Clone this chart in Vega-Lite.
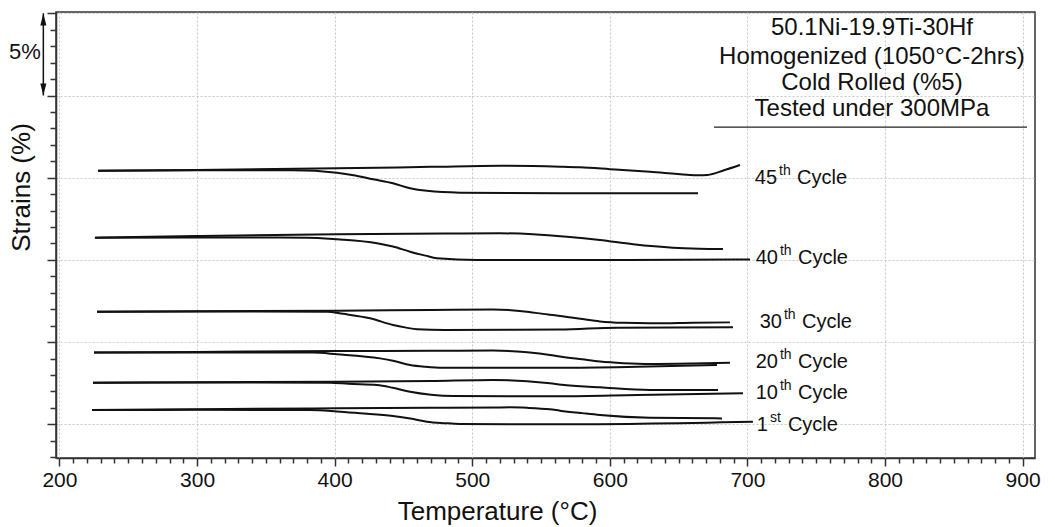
{
  "$schema": "https://vega.github.io/schema/vega-lite/v6.json",
  "width": 979,
  "height": 446,
  "autosize": {"type": "none"},
  "padding": {"left": 56, "top": 12, "right": 20, "bottom": 69},
  "background": "white",
  "config": {
    "view": {"stroke": "#333", "strokeWidth": 1.5},
    "font": "Liberation Sans",
    "text": {"font": "Liberation Sans", "color": "#111"}
  },
  "datasets": {
    "curves": [
      {"c": "45", "b": "h", "T": 228.0, "s": 15.43}, {"c": "45", "b": "h", "T": 300, "s": 15.47}, {"c": "45", "b": "h", "T": 401.7, "s": 15.57}, {"c": "45", "b": "h", "T": 470, "s": 15.66}, {"c": "45", "b": "h", "T": 520.2, "s": 15.73}, {"c": "45", "b": "h", "T": 563.8, "s": 15.67}, {"c": "45", "b": "h", "T": 578.3, "s": 15.63}, {"c": "45", "b": "h", "T": 600, "s": 15.52}, {"c": "45", "b": "h", "T": 629.2, "s": 15.36}, {"c": "45", "b": "h", "T": 656.1, "s": 15.18}, {"c": "45", "b": "h", "T": 664, "s": 15.15}, {"c": "45", "b": "h", "T": 671, "s": 15.17}, {"c": "45", "b": "h", "T": 683, "s": 15.45}, {"c": "45", "b": "h", "T": 694.6, "s": 15.77},
      {"c": "45", "b": "c", "T": 228.0, "s": 15.43}, {"c": "45", "b": "c", "T": 300, "s": 15.45}, {"c": "45", "b": "c", "T": 369.7, "s": 15.45}, {"c": "45", "b": "c", "T": 401.7, "s": 15.30}, {"c": "45", "b": "c", "T": 415, "s": 15.13}, {"c": "45", "b": "c", "T": 427.9, "s": 14.90}, {"c": "45", "b": "c", "T": 442.4, "s": 14.66}, {"c": "45", "b": "c", "T": 454.8, "s": 14.36}, {"c": "45", "b": "c", "T": 467, "s": 14.20}, {"c": "45", "b": "c", "T": 491.1, "s": 14.09}, {"c": "45", "b": "c", "T": 563.8, "s": 14.05}, {"c": "45", "b": "c", "T": 664.1, "s": 14.05},

      {"c": "40", "b": "h", "T": 225.8, "s": 11.35}, {"c": "40", "b": "h", "T": 300, "s": 11.45}, {"c": "40", "b": "h", "T": 401.7, "s": 11.56}, {"c": "40", "b": "h", "T": 480, "s": 11.60}, {"c": "40", "b": "h", "T": 520.2, "s": 11.62}, {"c": "40", "b": "h", "T": 544.2, "s": 11.56}, {"c": "40", "b": "h", "T": 568.9, "s": 11.41}, {"c": "40", "b": "h", "T": 592.8, "s": 11.21}, {"c": "40", "b": "h", "T": 617, "s": 10.95}, {"c": "40", "b": "h", "T": 645.9, "s": 10.74}, {"c": "40", "b": "h", "T": 665, "s": 10.68}, {"c": "40", "b": "h", "T": 682.2, "s": 10.66},
      {"c": "40", "b": "c", "T": 225.8, "s": 11.35}, {"c": "40", "b": "c", "T": 300, "s": 11.37}, {"c": "40", "b": "c", "T": 379.9, "s": 11.35}, {"c": "40", "b": "c", "T": 401.7, "s": 11.25}, {"c": "40", "b": "c", "T": 430.8, "s": 11.01}, {"c": "40", "b": "c", "T": 442.4, "s": 10.81}, {"c": "40", "b": "c", "T": 454.8, "s": 10.50}, {"c": "40", "b": "c", "T": 466, "s": 10.26}, {"c": "40", "b": "c", "T": 474.4, "s": 10.10}, {"c": "40", "b": "c", "T": 503.5, "s": 9.99}, {"c": "40", "b": "c", "T": 563.8, "s": 9.99}, {"c": "40", "b": "c", "T": 701.9, "s": 10.03},

      {"c": "30", "b": "h", "T": 227.3, "s": 6.85}, {"c": "30", "b": "h", "T": 300, "s": 6.88}, {"c": "30", "b": "h", "T": 401.7, "s": 6.91}, {"c": "30", "b": "h", "T": 470, "s": 6.96}, {"c": "30", "b": "h", "T": 515.1, "s": 6.99}, {"c": "30", "b": "h", "T": 539.8, "s": 6.85}, {"c": "30", "b": "h", "T": 556.5, "s": 6.66}, {"c": "30", "b": "h", "T": 563.8, "s": 6.59}, {"c": "30", "b": "h", "T": 580, "s": 6.40}, {"c": "30", "b": "h", "T": 592.8, "s": 6.26}, {"c": "30", "b": "h", "T": 610, "s": 6.17}, {"c": "30", "b": "h", "T": 629.2, "s": 6.14}, {"c": "30", "b": "h", "T": 660, "s": 6.17}, {"c": "30", "b": "h", "T": 687.3, "s": 6.20},
      {"c": "30", "b": "c", "T": 227.3, "s": 6.85}, {"c": "30", "b": "c", "T": 300, "s": 6.86}, {"c": "30", "b": "c", "T": 394.5, "s": 6.85}, {"c": "30", "b": "c", "T": 406, "s": 6.72}, {"c": "30", "b": "c", "T": 425.7, "s": 6.45}, {"c": "30", "b": "c", "T": 442.4, "s": 6.04}, {"c": "30", "b": "c", "T": 452, "s": 5.88}, {"c": "30", "b": "c", "T": 459.9, "s": 5.78}, {"c": "30", "b": "c", "T": 480, "s": 5.74}, {"c": "30", "b": "c", "T": 563.8, "s": 5.76}, {"c": "30", "b": "c", "T": 605.2, "s": 5.88}, {"c": "30", "b": "c", "T": 689.5, "s": 5.90},

      {"c": "20", "b": "h", "T": 225.1, "s": 4.36}, {"c": "20", "b": "h", "T": 300, "s": 4.40}, {"c": "20", "b": "h", "T": 401.7, "s": 4.46}, {"c": "20", "b": "h", "T": 470, "s": 4.47}, {"c": "20", "b": "h", "T": 515.1, "s": 4.49}, {"c": "20", "b": "h", "T": 540, "s": 4.38}, {"c": "20", "b": "h", "T": 556.5, "s": 4.22}, {"c": "20", "b": "h", "T": 563.8, "s": 4.12}, {"c": "20", "b": "h", "T": 580, "s": 3.95}, {"c": "20", "b": "h", "T": 592.8, "s": 3.82}, {"c": "20", "b": "h", "T": 610, "s": 3.72}, {"c": "20", "b": "h", "T": 629.2, "s": 3.67}, {"c": "20", "b": "h", "T": 660, "s": 3.70}, {"c": "20", "b": "h", "T": 687.3, "s": 3.75},
      {"c": "20", "b": "c", "T": 225.1, "s": 4.36}, {"c": "20", "b": "c", "T": 300, "s": 4.37}, {"c": "20", "b": "c", "T": 384.3, "s": 4.36}, {"c": "20", "b": "c", "T": 401.7, "s": 4.26}, {"c": "20", "b": "c", "T": 433, "s": 4.01}, {"c": "20", "b": "c", "T": 442.4, "s": 3.87}, {"c": "20", "b": "c", "T": 454.8, "s": 3.61}, {"c": "20", "b": "c", "T": 466, "s": 3.50}, {"c": "20", "b": "c", "T": 478.8, "s": 3.44}, {"c": "20", "b": "c", "T": 563.8, "s": 3.44}, {"c": "20", "b": "c", "T": 620, "s": 3.50}, {"c": "20", "b": "c", "T": 677.9, "s": 3.61},

      {"c": "10", "b": "h", "T": 224.4, "s": 2.53}, {"c": "10", "b": "h", "T": 300, "s": 2.56}, {"c": "10", "b": "h", "T": 401.7, "s": 2.59}, {"c": "10", "b": "h", "T": 470, "s": 2.64}, {"c": "10", "b": "h", "T": 515.1, "s": 2.70}, {"c": "10", "b": "h", "T": 540, "s": 2.62}, {"c": "10", "b": "h", "T": 556.5, "s": 2.49}, {"c": "10", "b": "h", "T": 565, "s": 2.40}, {"c": "10", "b": "h", "T": 592.8, "s": 2.25}, {"c": "10", "b": "h", "T": 629.2, "s": 2.09}, {"c": "10", "b": "h", "T": 678.6, "s": 2.09},
      {"c": "10", "b": "c", "T": 224.4, "s": 2.53}, {"c": "10", "b": "c", "T": 300, "s": 2.54}, {"c": "10", "b": "c", "T": 396.6, "s": 2.53}, {"c": "10", "b": "c", "T": 410, "s": 2.46}, {"c": "10", "b": "c", "T": 430.8, "s": 2.39}, {"c": "10", "b": "c", "T": 442.4, "s": 2.22}, {"c": "10", "b": "c", "T": 454.8, "s": 1.98}, {"c": "10", "b": "c", "T": 470, "s": 1.80}, {"c": "10", "b": "c", "T": 486, "s": 1.72}, {"c": "10", "b": "c", "T": 563.8, "s": 1.70}, {"c": "10", "b": "c", "T": 620, "s": 1.78}, {"c": "10", "b": "c", "T": 696.8, "s": 1.89},

      {"c": "1", "b": "h", "T": 223.7, "s": 0.87}, {"c": "1", "b": "h", "T": 300, "s": 0.92}, {"c": "1", "b": "h", "T": 401.7, "s": 0.97}, {"c": "1", "b": "h", "T": 470, "s": 1.00}, {"c": "1", "b": "h", "T": 527.4, "s": 1.03}, {"c": "1", "b": "h", "T": 540, "s": 1.00}, {"c": "1", "b": "h", "T": 556.5, "s": 0.91}, {"c": "1", "b": "h", "T": 563.8, "s": 0.83}, {"c": "1", "b": "h", "T": 580, "s": 0.68}, {"c": "1", "b": "h", "T": 592.8, "s": 0.57}, {"c": "1", "b": "h", "T": 629.2, "s": 0.40}, {"c": "1", "b": "h", "T": 681.5, "s": 0.36},
      {"c": "1", "b": "c", "T": 223.7, "s": 0.87}, {"c": "1", "b": "c", "T": 300, "s": 0.88}, {"c": "1", "b": "c", "T": 382.1, "s": 0.87}, {"c": "1", "b": "c", "T": 401.7, "s": 0.78}, {"c": "1", "b": "c", "T": 418.4, "s": 0.67}, {"c": "1", "b": "c", "T": 442.4, "s": 0.50}, {"c": "1", "b": "c", "T": 455, "s": 0.35}, {"c": "1", "b": "c", "T": 467.1, "s": 0.16}, {"c": "1", "b": "c", "T": 480, "s": 0.07}, {"c": "1", "b": "c", "T": 491.1, "s": 0.02}, {"c": "1", "b": "c", "T": 563.8, "s": 0.00}, {"c": "1", "b": "c", "T": 704.0, "s": 0.16}
    ],
    "labels": [
      {"num": "45", "suf": "th", "T": 721.5, "s": 14.98},
      {"num": "40", "suf": "th", "T": 722.2, "s": 10.12},
      {"num": "30", "suf": "th", "T": 725.1, "s": 6.24},
      {"num": "20", "suf": "th", "T": 722.2, "s": 3.81},
      {"num": "10", "suf": "th", "T": 722.2, "s": 1.89},
      {"num": "1", "suf": "st", "T": 714.9, "s": -0.04}
    ],
    "box": [
      {"txt": "50.1Ni-19.9Ti-30Hf", "T": 790.5, "s": 24.09},
      {"txt": "Homogenized (1050°C-2hrs)", "T": 790.5, "s": 22.36},
      {"txt": "Cold Rolled (%5)", "T": 790.5, "s": 20.76},
      {"txt": "Tested under 300MPa", "T": 790.5, "s": 19.18}
    ],
    "underline": [{"T": 675.7, "T2": 903.2, "s": 18.08}],
    "scalebar": [{"T": 188.3, "s": 25.0, "s2": 20.0}],
    "heads": [{"T": 188.3, "s": 25.0, "dir": "up"}, {"T": 188.3, "s": 20.0, "dir": "down"}],
    "pct": [{"txt": "5%", "T": 186.5, "s": 22.65}]
  },
  "encoding": {
    "x": {
      "field": "T", "type": "quantitative",
      "scale": {"domain": [197.5, 909], "nice": false, "zero": false},
      "axis": {
        "values": [200,210,220,230,240,250,260,270,280,290,300,310,320,330,340,350,360,370,380,390,400,410,420,430,440,450,460,470,480,490,500,510,520,530,540,550,560,570,580,590,600,610,620,630,640,650,660,670,680,690,700,710,720,730,740,750,760,770,780,790,800,810,820,830,840,850,860,870,880,890,900],
        "labelExpr": "datum.value % 100 === 0 ? datum.label : ''",
        "format": "d",
        "labelOverlap": false,
        "labelFlush": false,
        "labelFont": "Liberation Sans", "labelFontSize": 21, "labelColor": "#111", "labelPadding": 3,
        "tickSize": {"condition": {"test": "datum.value % 100 === 0", "value": 8}, "value": 5},
        "tickColor": "#333", "tickWidth": 1.5,
        "domainColor": "#333", "domainWidth": 1.5,
        "grid": true, "gridColor": "#c8c8c8", "gridDash": [2, 2], "gridWidth": 1,
        "gridOpacity": {"condition": {"test": "datum.value % 100 === 0", "value": 1}, "value": 0},
        "title": "Temperature (°C)",
        "titleFont": "Liberation Sans", "titleFontSize": 26, "titleFontWeight": "normal", "titleColor": "#111",
        "titleX": 441, "titleY": 61, "titleAlign": "center", "titleBaseline": "alphabetic", "titleAnchor": null
      }
    },
    "y": {
      "field": "s", "type": "quantitative",
      "scale": {"domain": [-2.05, 25.08], "nice": false, "zero": false},
      "axis": {
        "values": [-2,-1,0,1,2,3,4,5,6,7,8,9,10,11,12,13,14,15,16,17,18,19,20,21,22,23,24,25],
        "labels": false,
        "tickSize": {"condition": {"test": "datum.value % 5 === 0", "value": 9}, "value": 6},
        "tickColor": "#333", "tickWidth": 1.5,
        "domainColor": "#333", "domainWidth": 1.5,
        "grid": true, "gridColor": "#c8c8c8", "gridDash": [2, 2], "gridWidth": 1,
        "gridOpacity": {"condition": {"test": "datum.value % 5 === 0", "value": 1}, "value": 0},
        "title": "Strains (%)",
        "titleFont": "Liberation Sans", "titleFontSize": 26, "titleFontWeight": "normal", "titleColor": "#111",
        "titleX": -35, "titleY": 175, "titleAlign": "center", "titleBaseline": "middle", "titleAngle": 270
      }
    }
  },
  "layer": [
    {
      "data": {"name": "curves"},
      "mark": {"type": "line", "color": "#111", "strokeWidth": 2, "interpolate": "monotone"},
      "encoding": {"detail": [{"field": "c"}, {"field": "b"}]}
    },
    {
      "data": {"name": "labels"},
      "mark": {"type": "text", "align": "right", "baseline": "middle", "fontSize": 20},
      "encoding": {"text": {"field": "num"}}
    },
    {
      "data": {"name": "labels"},
      "mark": {"type": "text", "align": "left", "baseline": "middle", "fontSize": 14, "dx": 2, "dy": -7},
      "encoding": {"text": {"field": "suf"}}
    },
    {
      "data": {"name": "labels"},
      "mark": {"type": "text", "align": "left", "baseline": "middle", "fontSize": 20, "dx": 20, "text": "Cycle"},
      "encoding": {}
    },
    {
      "data": {"name": "box"},
      "mark": {"type": "text", "align": "center", "baseline": "middle", "fontSize": 24},
      "encoding": {"text": {"field": "txt"}}
    },
    {
      "data": {"name": "underline"},
      "mark": {"type": "rule", "color": "#222", "strokeWidth": 1.2},
      "encoding": {"x2": {"field": "T2"}}
    },
    {
      "data": {"name": "scalebar"},
      "mark": {"type": "rule", "color": "#111", "strokeWidth": 1.5},
      "encoding": {"y2": {"field": "s2"}}
    },
    {
      "data": {"name": "heads"},
      "mark": {"type": "point", "filled": true, "color": "#111", "opacity": 1, "size": 180},
      "encoding": {
        "shape": {
          "field": "dir", "type": "nominal",
          "scale": {"domain": ["up", "down"], "range": ["M0,0L0.45,1.8L-0.45,1.8Z", "M0,0L0.45,-1.8L-0.45,-1.8Z"]},
          "legend": null
        }
      }
    },
    {
      "data": {"name": "pct"},
      "mark": {"type": "text", "align": "right", "baseline": "middle", "fontSize": 22},
      "encoding": {"text": {"field": "txt"}}
    }
  ]
}
